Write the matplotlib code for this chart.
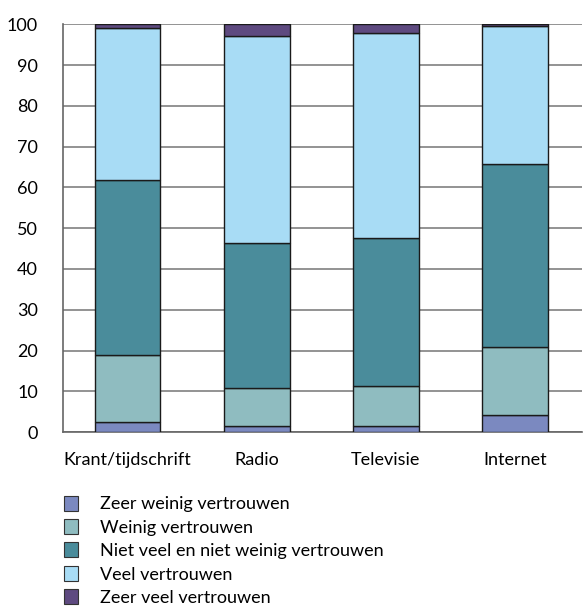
import matplotlib
matplotlib.use("Agg")
import matplotlib.pyplot as plt
import numpy as np
from matplotlib.patches import Patch

categories = ["Krant/tijdschrift", "Radio", "Televisie", "Internet"]
series_names = ["Zeer weinig vertrouwen", "Weinig vertrouwen",
                "Niet veel en niet weinig vertrouwen", "Veel vertrouwen",
                "Zeer veel vertrouwen"]
zeer_weinig = [2.4, 1.5, 1.5, 4.2]
weinig = [16.5, 9.3, 9.8, 16.6]
niet_veel = [42.9, 35.5, 36.2, 44.9]
veel = [37.2, 50.8, 50.3, 33.8]
zeer_veel = [1.0, 2.9, 2.2, 0.5]
colors = ["#7B89C0", "#8FBCC0", "#4A8C9B", "#A8DCF5", "#5E4A80"]
yticks = [0, 10, 20, 30, 40, 50, 60, 70, 80, 90, 100]

plt.rcParams['font.family'] = ['Lato', 'DejaVu Sans']
fig = plt.figure(figsize=(5.85, 6.06), dpi=100)
ax = fig.add_axes([0.1077, 0.287, 0.887, 0.673])

x = np.arange(len(categories))
bottom = np.zeros(len(categories))
for vals, c in zip([zeer_weinig, weinig, niet_veel, veel, zeer_veel], colors):
    ax.bar(x, vals, width=0.51, bottom=bottom, color=c, edgecolor="#1a1a1a",
           linewidth=1.0, zorder=3)
    bottom += np.array(vals)

ax.set_xlim(-0.5, 3.52)
ax.set_ylim(0, 100)
ax.set_yticks(yticks)
ax.yaxis.grid(True, color="#808080", linewidth=1.2, zorder=0)
ax.set_axisbelow(True)
for s in ["top", "right"]:
    ax.spines[s].set_visible(False)
for s in ["left", "bottom"]:
    ax.spines[s].set_color("#666666")
    ax.spines[s].set_linewidth(1.2)
ax.tick_params(axis="y", length=0, labelsize=13, pad=18)
ax.set_xticks(x)
ax.set_xticklabels(categories, fontsize=13)
ax.tick_params(axis="x", length=0, pad=14)
ax.set_xticks([0.5, 1.5, 2.5], minor=True)
ax.tick_params(axis="x", which="minor", length=-8, direction="in", color="#808080", width=1.2)

handles = [Patch(facecolor=c, edgecolor="#333333", linewidth=0.8) for c in colors]
fig.legend(handles, series_names, loc="upper left", bbox_to_anchor=(0.097, 0.194),
           frameon=False, fontsize=13, handlelength=0.8, handleheight=0.9,
           handletextpad=1.2, labelspacing=0.37, borderaxespad=0)

fig.savefig("out.png", dpi=100)
